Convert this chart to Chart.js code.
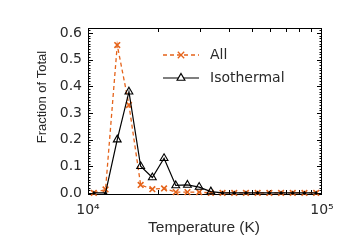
<!DOCTYPE html>
<html lang="en">
<head>
    <meta charset="UTF-8">
    <title>Fraction of Total vs Temperature</title>
    <script src="https://cdnjs.cloudflare.com/ajax/libs/Chart.js/4.4.1/chart.umd.min.js"></script>
    <style>
        html, body { margin: 0; padding: 0; background: #fff; }
        #chart { display: block; }
    </style>
</head>
<body>
    <canvas id="chart" width="350" height="250"></canvas>

    <script>
        // Bin centres (K), 0.05 dex wide between 1e4 and 1e5
        const temperatures = [10593, 11885, 13335, 14962, 16788, 18836, 21135, 23714, 26607, 29854,
                              33497, 37584, 42170, 47315, 53088, 59566, 66834, 74989, 84140, 94406];
        const allFraction = [0.0, 0.013, 0.555, 0.33, 0.03, 0.014, 0.017, 0.003, 0.003, 0.003,
                             0.0, 0.0, 0.0, 0.0, 0.0, 0.0, 0.0, 0.0, 0.0, 0.0];
        const isoFraction = [0.0, 0.0, 0.2, 0.38, 0.1, 0.058, 0.13, 0.028, 0.03, 0.022,
                             0.005, 0.0, 0.0, 0.0, 0.0, 0.0, 0.0, 0.0, 0.0, 0.0];
        const seriesNames = ['All', 'Isothermal'];
        const xTickLabels = { 10000: '10\u2074', 100000: '10\u2075' };
        const xTitle = 'Temperature (K)';
        const yTitle = 'Fraction of Total';

        const orange = '#e5631a';
        const ink = '#2a2a2a';

        function points(ys) {
            return temperatures.map((t, i) => ({ x: t, y: ys[i] }));
        }

        // Box, inward ticks and axis titles
        const framePlugin = {
            id: 'frame',
            beforeDatasetsDraw(chart) {
                const { ctx, chartArea: a, scales: { x, y } } = chart;
                ctx.save();
                ctx.strokeStyle = '#000';
                ctx.lineWidth = 1;
                ctx.strokeRect(a.left + 0.5, a.top + 0.5, a.right - a.left - 1, a.bottom - a.top);
                ctx.beginPath();
                for (let k = 0; k <= 61; k++) {
                    const py = Math.round(y.getPixelForValue(k / 100)) + 0.5;
                    const len = k % 10 === 0 ? 5 : 2.5;
                    ctx.moveTo(a.left, py); ctx.lineTo(a.left + len, py);
                    ctx.moveTo(a.right, py); ctx.lineTo(a.right - len, py);
                }
                for (let m = 2; m <= 9; m++) {
                    const px = Math.round(x.getPixelForValue(m * 10000)) + 0.5;
                    ctx.moveTo(px, a.bottom); ctx.lineTo(px, a.bottom - 4);
                    ctx.moveTo(px, a.top); ctx.lineTo(px, a.top + 4);
                }
                ctx.stroke();

                ctx.fillStyle = ink;
                ctx.textAlign = 'center';
                ctx.textBaseline = 'middle';
                ctx.font = '15.5px "Liberation Sans"';
                ctx.fillText(xTitle, 204, 228);
                ctx.translate(42, 97);
                ctx.rotate(-Math.PI / 2);
                ctx.font = '13px "Liberation Sans"';
                ctx.fillText(yTitle, 0, 0);
                ctx.restore();
            },
            afterDraw(chart) {
                const { ctx } = chart;
                const rows = [55, 78];
                ctx.save();
                chart.data.datasets.forEach((ds, i) => {
                    const ly = rows[i];
                    ctx.strokeStyle = ds.borderColor;
                    ctx.lineWidth = ds.borderWidth;
                    ctx.setLineDash(ds.borderDash || []);
                    ctx.beginPath();
                    ctx.moveTo(163, ly); ctx.lineTo(199, ly);
                    ctx.stroke();
                    ctx.setLineDash([]);
                    ctx.fillStyle = '#fff';
                    Chart.helpers.drawPoint(ctx, {
                        pointStyle: ds.pointStyle, radius: 4.5,
                        borderWidth: ds.pointBorderWidth, rotation: 0
                    }, 181, ly);
                    ctx.fillStyle = ink;
                    ctx.font = '14px "DejaVu Sans"';
                    ctx.textAlign = 'left';
                    ctx.textBaseline = 'middle';
                    ctx.fillText(ds.label, 210, ly);
                });
                ctx.restore();
            }
        };

        new Chart(document.getElementById('chart'), {
            type: 'line',
            data: {
                datasets: [{
                    label: seriesNames[0],
                    data: points(allFraction),
                    borderColor: orange,
                    backgroundColor: 'rgba(0,0,0,0)',
                    borderWidth: 1.3,
                    borderDash: [4, 3],
                    pointStyle: 'crossRot',
                    pointRadius: 4,
                    pointBorderWidth: 1.6,
                    pointBorderColor: orange,
                    clip: false,
                    order: 2
                }, {
                    label: seriesNames[1],
                    data: points(isoFraction),
                    borderColor: '#000',
                    backgroundColor: 'rgba(0,0,0,0)',
                    borderWidth: 1.2,
                    pointStyle: 'triangle',
                    pointRadius: (c) => (c.raw && c.raw.y === 0 ? 1.3 : 4.5),
                    pointBorderWidth: 1.1,
                    pointBorderColor: '#000',
                    pointBackgroundColor: 'rgba(0,0,0,0)',
                    clip: false,
                    order: 1
                }]
            },
            options: {
                responsive: false,
                animation: false,
                layout: { padding: { left: 0, top: 28, right: 28, bottom: 0 } },
                plugins: {
                    legend: { display: false },
                    tooltip: { enabled: false }
                },
                scales: {
                    x: {
                        type: 'logarithmic',
                        min: 10000,
                        max: 100000,
                        grid: { display: false, drawTicks: false },
                        border: { display: false },
                        afterFit(scale) { scale.height = 56; },
                        ticks: {
                            autoSkip: false,
                            maxRotation: 0,
                            padding: 8,
                            color: ink,
                            font: { family: 'DejaVu Sans', size: 14 },
                            callback: (v) => xTickLabels[v] || ''
                        }
                    },
                    y: {
                        min: -0.004,
                        max: 0.619,
                        grid: { display: false, drawTicks: false },
                        border: { display: false },
                        afterFit(scale) { scale.width = 88; },
                        ticks: {
                            stepSize: 0.1,
                            includeBounds: false,
                            padding: 6,
                            color: ink,
                            font: { family: 'DejaVu Sans', size: 14 },
                            callback: (v) => v.toFixed(1)
                        }
                    }
                }
            },
            plugins: [framePlugin]
        });
    </script>
</body>
</html>
